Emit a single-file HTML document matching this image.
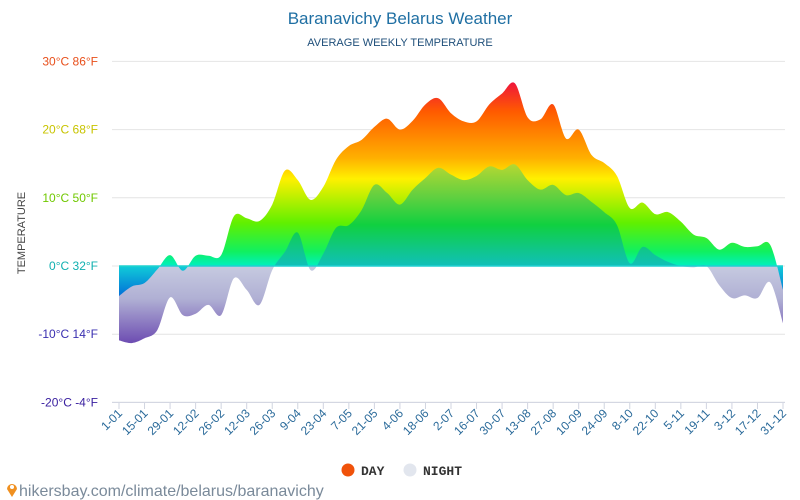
<!DOCTYPE html>
<html><head><meta charset="utf-8"><style>
body{margin:0;background:#fff;width:800px;height:500px;overflow:hidden;font-family:"Liberation Sans",sans-serif}
svg{position:absolute;left:0;top:0}
</style></head><body>
<svg id="chart" width="800" height="500">
<defs>
<linearGradient id="gDay" gradientUnits="userSpaceOnUse" x1="0" y1="80" x2="0" y2="340">
<stop offset="0" stop-color="#ee1040"/><stop offset="0.12" stop-color="#ff5a00"/><stop offset="0.3" stop-color="#ffb000"/><stop offset="0.38" stop-color="#fff000"/><stop offset="0.55" stop-color="#60f000"/><stop offset="0.66" stop-color="#10f060"/><stop offset="0.715" stop-color="#00f0c0"/><stop offset="0.72" stop-color="#10c8d8"/><stop offset="0.85" stop-color="#0060d8"/><stop offset="1" stop-color="#3020b0"/></linearGradient>
<linearGradient id="gNight" gradientUnits="userSpaceOnUse" x1="0" y1="160" x2="0" y2="345">
<stop offset="0" stop-color="#c0d830"/><stop offset="0.2" stop-color="#60d040"/><stop offset="0.35" stop-color="#10d040"/><stop offset="0.57" stop-color="#10c0b8"/><stop offset="0.575" stop-color="#c6cae0"/><stop offset="0.75" stop-color="#b0b0d4"/><stop offset="1" stop-color="#6a48b0"/></linearGradient>
<clipPath id="below"><rect x="0" y="266" width="800" height="200"/></clipPath>
</defs>
<g id="grid"></g>
<g id="marks"></g>
<g id="labels"></g>
<text x="400" y="24" text-anchor="middle" font-size="17" fill="#1f6fa3">Baranavichy Belarus Weather</text>
<text x="400" y="46" text-anchor="middle" font-size="11" fill="#1f4f7a">AVERAGE WEEKLY TEMPERATURE</text>
<text transform="translate(25,233) rotate(-90)" text-anchor="middle" font-size="11" fill="#444">TEMPERATURE</text>
<g><circle cx="348" cy="470" r="6.5" fill="#f0520a"/><text x="361" y="475" font-size="13" font-family="Liberation Mono,monospace" font-weight="bold" fill="#333">DAY</text></g>
<g><circle cx="410" cy="470" r="6.5" fill="#e2e6ee"/><text x="423" y="475" font-size="13" font-family="Liberation Mono,monospace" font-weight="bold" fill="#333">NIGHT</text></g>
<g><path d="M12 497 L7 489 A5 5 0 1 1 17 489 Z" fill="#f09020"/><circle cx="12" cy="487" r="2" fill="#fff"/><text x="19" y="496" font-size="16" fill="#7a8a9a">hikersbay.com/climate/belarus/baranavichy</text></g>
</svg>
<script>
const dayTemps=[-4.4,-3,-2.5,-0.5,1.6,-0.7,1.5,1.5,1.6,7.3,7,6.6,9,14,12.6,9.7,11.6,15.6,17.6,18.5,20.4,21.6,20,21.3,23.7,24.6,22.4,21.2,21.2,23.7,25.3,26.8,21.8,21.5,23.7,18.7,20,16.3,15.1,13.2,8.5,9.3,7.6,7.9,6.5,4.6,4.1,2.4,3.4,2.8,2.9,3.1,-3.5];
const nightTemps=[-10.9,-11.3,-10.6,-9.4,-4.6,-7.2,-7,-5.7,-7.2,-1.8,-3.5,-5.7,-0.6,2.1,4.9,-0.6,1.8,5.6,6,8.2,11.9,10.7,9,11.2,12.9,14.4,13.4,12.6,13.2,14.6,14.1,14.9,12.6,11.2,11.9,10.4,10.7,9.4,7.9,6,0.4,2.8,1.6,0.6,0,-0.2,0,-2.8,-4.7,-4.3,-4.7,-2.4,-8.4];
const xLabels=["1-01","15-01","29-01","12-02","26-02","12-03","26-03","9-04","23-04","7-05","21-05","4-06","18-06","2-07","16-07","30-07","13-08","27-08","10-09","24-09","8-10","22-10","5-11","19-11","3-12","17-12","31-12"];
const yTicks=[30,20,10,0,-10,-20];
const yTickText=["30°C 86°F","20°C 68°F","10°C 50°F","0°C 32°F","-10°C 14°F","-20°C -4°F"];
const yTickColors=["#e8501c","#c8c400","#70c800","#10b0b0","#3a2fb0","#3a20a0"];
const NS="http://www.w3.org/2000/svg";
const X0=119,X1=783;
function xs(i,n){return X0+(X1-X0)*i/(n-1);}
function ys(t){return 266-t*6.82;}
function mk(tag,attrs,parent){const e=document.createElementNS(NS,tag);for(const k in attrs)e.setAttribute(k,attrs[k]);parent.appendChild(e);return e;}
const grid=document.getElementById('grid'),marks=document.getElementById('marks'),labels=document.getElementById('labels');
yTicks.forEach((t,i)=>{
 const l=mk('line',{x1:112,x2:785,y1:ys(t),y2:ys(t),stroke:'#e4e4e4','stroke-width':1},grid);
 
 
 const tx=mk('text',{x:98,y:ys(t)+4,'text-anchor':'end','font-size':12,fill:yTickColors[i]},labels);
 tx.textContent=yTickText[i];
 
 
});
const ax=mk('line',{x1:112,x2:785,y1:ys(-20),y2:ys(-20),stroke:'#d0d4e0'},grid);


xLabels.forEach((s,i)=>{
 const x=X0+(X1-X0)*i/(xLabels.length-1);
 const tk=mk('line',{x1:x,x2:x,y1:403,y2:409,stroke:'#d0d4e0'},grid);
 
 
 const tx=mk('text',{'text-anchor':'end','font-size':12,fill:'#2a6a9a',transform:`translate(${x+4},${414}) rotate(-45)`},labels);
 tx.textContent=s;
 
 
});
function areaPath(vals){
 const n=vals.length,p=vals.map((v,i)=>[xs(i,n),ys(v)]);
 let d=`M${p[0][0]},266 L${p[0][0]},${p[0][1]}`;
 for(let i=0;i<n-1;i++){
  const p0=p[Math.max(0,i-1)],p1=p[i],p2=p[i+1],p3=p[Math.min(n-1,i+2)];
  const c1=[p1[0]+(p2[0]-p0[0])/6,p1[1]+(p2[1]-p0[1])/6],c2=[p2[0]-(p3[0]-p1[0])/6,p2[1]-(p3[1]-p1[1])/6];
  d+=` C${c1[0]},${c1[1]} ${c2[0]},${c2[1]} ${p2[0]},${p2[1]}`;
 }
 return d+` L${p[n-1][0]},266 Z`;
}
const dPath=areaPath(dayTemps),nPath=areaPath(nightTemps);
const a1=mk('path',{d:dPath,fill:'url(#gDay)'},marks);


const a2=mk('path',{d:nPath,fill:'url(#gNight)'},marks);


const a3=mk('path',{d:dPath,fill:'url(#gDay)','clip-path':'url(#below)'},marks);


const z=mk('line',{x1:X0,x2:X1,y1:266,y2:266,stroke:'#20d0d0','stroke-width':1.5},marks);


</script>
</body></html>
